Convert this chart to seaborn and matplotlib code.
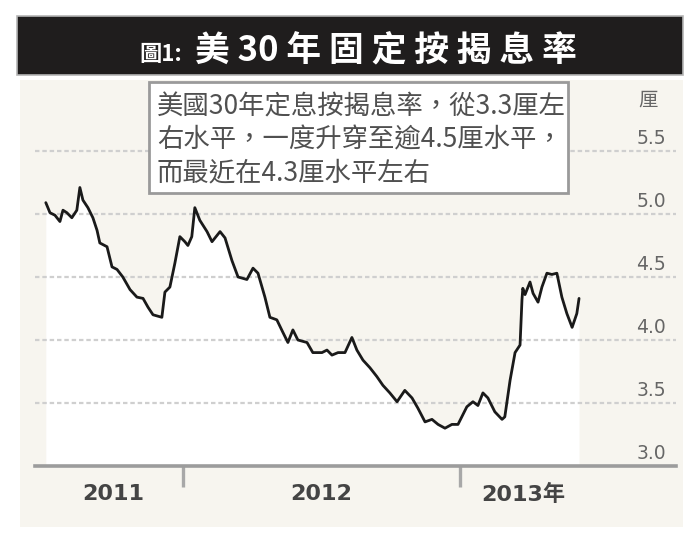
import pandas as pd
import seaborn as sns
import matplotlib
matplotlib.use('Agg')
import matplotlib.pyplot as plt
from matplotlib.patches import Rectangle

# weekly-ish readings of the 30-year fixed mortgage rate (fractional year, %)
years = [2011.505, 2011.520, 2011.538, 2011.556, 2011.567, 2011.581, 2011.599, 2011.617,
         2011.628, 2011.639, 2011.657, 2011.675, 2011.690, 2011.700, 2011.726, 2011.744,
         2011.762, 2011.783, 2011.809, 2011.834, 2011.856, 2011.874, 2011.892, 2011.924,
         2011.935, 2011.953, 2011.971, 2011.989, 2012.007, 2012.018, 2012.032, 2012.043,
         2012.061, 2012.087, 2012.105, 2012.134, 2012.152, 2012.177, 2012.199, 2012.231,
         2012.253, 2012.271, 2012.296, 2012.314, 2012.339, 2012.361, 2012.379, 2012.397,
         2012.415, 2012.448, 2012.469, 2012.502, 2012.520, 2012.538, 2012.560, 2012.585,
         2012.610, 2012.628, 2012.650, 2012.675, 2012.700, 2012.722, 2012.747, 2012.773,
         2012.801, 2012.827, 2012.848, 2012.874, 2012.899, 2012.921, 2012.946, 2012.971,
         2012.993, 2013.025, 2013.047, 2013.065, 2013.083, 2013.101, 2013.126, 2013.152,
         2013.162, 2013.181, 2013.199, 2013.217, 2013.224, 2013.227, 2013.235, 2013.253,
         2013.264, 2013.282, 2013.296, 2013.314, 2013.332, 2013.350, 2013.368, 2013.386,
         2013.405, 2013.422, 2013.430]
rates = [5.09, 5.01, 4.99, 4.94, 5.03, 5.01, 4.97, 5.03,
         5.21, 5.11, 5.05, 4.97, 4.87, 4.77, 4.74, 4.58,
         4.56, 4.50, 4.40, 4.34, 4.33, 4.26, 4.20, 4.18,
         4.38, 4.42, 4.61, 4.82, 4.78, 4.75, 4.82, 5.05,
         4.95, 4.86, 4.78, 4.86, 4.81, 4.63, 4.50, 4.48,
         4.57, 4.53, 4.34, 4.18, 4.16, 4.06, 3.98, 4.08,
         4.00, 3.98, 3.90, 3.90, 3.92, 3.88, 3.90, 3.90,
         4.02, 3.92, 3.84, 3.78, 3.71, 3.64, 3.58, 3.51,
         3.60, 3.54, 3.46, 3.35, 3.37, 3.33, 3.30, 3.33,
         3.33, 3.47, 3.51, 3.48, 3.58, 3.54, 3.43, 3.37,
         3.39, 3.68, 3.90, 3.96, 4.32, 4.41, 4.36, 4.46,
         4.37, 4.30, 4.42, 4.53, 4.52, 4.53, 4.34, 4.21,
         4.10, 4.21, 4.33]

ytick_vals = [3.0, 3.5, 4.0, 4.5, 5.0, 5.5]
ytick_labels = ["3.0", "3.5", "4.0", "4.5", "5.0", "5.5"]
year_ticks = [2012.0, 2013.0]
year_label_pos = [2011.75, 2012.5, 2013.227]
year_labels = ["2011", "2012", "2013年"]

title_prefix = "圖1:"
title_main = "美 30 年 固 定 按 揭 息 率"
note_lines = ["美國30年定息按揭息率，從3.3厘左",
              "右水平，一度升穿至逾4.5厘水平，",
              "而最近在4.3厘水平左右"]
unit = "厘"

df = pd.DataFrame({"year": years, "rate": rates})

sns.set_theme(style="white")
plt.rcParams['font.family'] = ['DejaVu Sans', 'Noto Sans CJK TC']
cjk = ['Noto Sans CJK TC', 'DejaVu Sans']

W, H = 699, 540
PANEL = "#f7f5ef"

def fx(x):
    return x / W

def fy(y):
    return 1 - y / H

fig = plt.figure(figsize=(W / 100, H / 100), dpi=100, facecolor="white")

# background panel and title bar
fig.patches.append(Rectangle((fx(20), fy(527)), (683 - 20) / W, (527 - 80) / H,
                             transform=fig.transFigure, facecolor=PANEL, edgecolor="none", zorder=-2))
fig.patches.append(Rectangle((fx(17), fy(75)), (683 - 17) / W, (75 - 16) / H,
                             transform=fig.transFigure, facecolor="#1f1d1d", edgecolor="#b5b5b5",
                             linewidth=1.2, zorder=-1))
fig.text(fx(182), fy(61), title_prefix, color="white", fontsize=16, fontweight="bold",
         family=cjk, ha="right", va="baseline")
fig.text(fx(195), fy(61), title_main, color="white", fontsize=25, fontweight="bold",
         family=cjk, ha="left", va="baseline")

ax = fig.add_axes([fx(35), fy(466), (676 - 35) / W, (466 - 140) / H])
ax.set_zorder(1)
ax.set_facecolor("none")

ax.fill_between(df["year"], df["rate"], 3.0, color="white", zorder=1, linewidth=0)
for v in ytick_vals[1:]:
    ax.axhline(v, color="#cfcfcf", linewidth=1.6, linestyle=(0, (2, 1.3)), zorder=2)
sns.lineplot(data=df, x="year", y="rate", color="#1a1a1a", linewidth=2.0, ax=ax, zorder=4, sort=False)

ax.set_xlim(2011.466, 2013.780)
ax.set_ylim(3.0, 5.587)
ax.set_xlabel("")
ax.set_ylabel("")

for s in ["top", "left", "right"]:
    ax.spines[s].set_visible(False)
ax.spines["bottom"].set_color("#9c9c9c")
ax.spines["bottom"].set_linewidth(2.6)

ax.set_yticks([])
ax.set_xticks(year_ticks)
ax.set_xticklabels([])
ax.tick_params(axis="x", which="major", bottom=True, length=15, width=2.4, color="#a8a8a8",
               direction="out")
ax.set_xticks(year_label_pos, minor=True)
ax.set_xticklabels(year_labels, minor=True, fontweight="bold")
ax.tick_params(axis="x", which="minor", bottom=True, length=0, pad=13, labelsize=16,
               labelcolor="#444444")

for v, lab in zip(ytick_vals, ytick_labels):
    ax.text(0.984, v + 0.025, lab, transform=ax.get_yaxis_transform(), ha="right", va="bottom",
            fontsize=13.5, color="#666666")

fig.text(fx(648), fy(100), unit, ha="center", va="center", fontsize=14, color="#666666", family=cjk)

# note box
fig.patches.append(Rectangle((fx(149), fy(193)), (568 - 149) / W, (193 - 82) / H,
                             transform=fig.transFigure, facecolor="white", edgecolor="#9a9a9a",
                             linewidth=2, zorder=5))
for i, line in enumerate(note_lines):
    fig.text(fx(157), fy(107 + 33 * i), line, ha="left", va="center", fontsize=19,
             color="#505050", family=cjk, zorder=6)

fig.savefig("out.png", dpi=100, facecolor="white")
plt.close(fig)
